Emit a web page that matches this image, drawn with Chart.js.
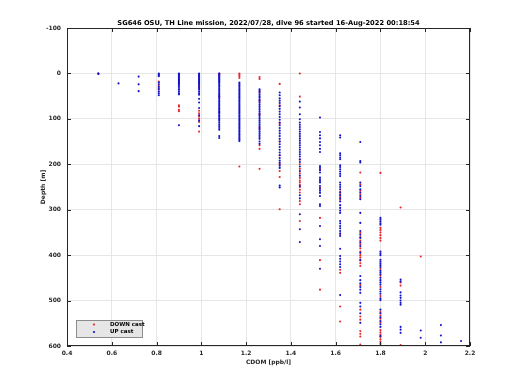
<!DOCTYPE html>
<html>
<head>
<meta charset="utf-8">
<script src="https://cdn.jsdelivr.net/npm/chart.js@4"></script>
<style>
  body { margin: 0; background: #fff; }
  canvas { display: block; }
</style>
</head>
<body>
<canvas id="chart" width="520" height="390"></canvas>
<script>
// CDOM levels (x) — the sensor reports discrete steps
const cdomLevels = [0.54, 0.63, 0.72, 0.81, 0.90, 0.99, 1.08, 1.17, 1.26, 1.35, 1.44, 1.53, 1.62, 1.71, 1.80, 1.89, 1.98, 2.07, 2.16];

// depths [m] for each CDOM level, down cast
const downDepths = [
  [0],
  [],
  [],
  [18, 28, 36],
  [2, 70, 73, 80, 83],
  [30, 82, 88, 95, 100, 107, 128],
  [0, 3, 50, 85],
  [0, 3, 6, 10, 205],
  [8, 12, 40, 60, 90, 120, 158, 166, 210],
  [23, 70, 110, 150, 180, 200, 215, 228, 299],
  [0, 51, 190, 200, 210, 220, 230, 236, 240, 245, 250, 256, 262, 281, 288, 325],
  [211, 252, 318, 411, 476],
  [260, 266, 272, 278, 355, 432, 439, 513, 546],
  [218, 244, 258, 266, 274, 351, 360, 368, 376, 385, 392, 400, 405, 412, 418, 424, 466, 520, 535, 542, 567, 573, 579, 597],
  [219, 340, 345, 350, 356, 362, 368, 430, 445, 470, 490, 525, 533, 540, 548, 565, 570, 575, 580, 585, 590, 594, 598],
  [295, 460, 467, 598],
  [403],
  [],
  []
];

// depths [m] for each CDOM level, up cast
const upDepths = [
  [0, 1],
  [22],
  [7, 24, 39],
  [0, 2, 4, 6, 20, 24, 30, 34, 40, 44, 48],
  [0, 2, 4, 6, 8, 10, 12, 14, 16, 18, 20, 22, 25, 28, 32, 36, 40, 44, 46, 114],
  [0, 2, 4, 6, 8, 10, 12, 14, 16, 18, 20, 22, 24, 27, 30, 33, 36, 40, 44, 47, 56, 64, 76, 92, 104, 116],
  [0, 2, 4, 6, 8, 10, 12, 14, 16, 18, 20, 23, 26, 29, 32, 35, 38, 41, 44, 47, 50, 53, 56, 59, 62, 65, 68, 71, 74, 77, 80, 83, 86, 89, 92, 95, 98, 101, 104, 108, 112, 116, 120, 124, 138, 142],
  [20, 23, 26, 29, 32, 35, 38, 41, 44, 47, 50, 53, 56, 59, 62, 65, 68, 71, 74, 77, 80, 83, 86, 89, 92, 95, 98, 101, 104, 107, 110, 113, 116, 119, 122, 125, 128, 131, 134, 137, 140, 143, 146, 149],
  [35, 38, 42, 46, 50, 53, 57, 60, 64, 68, 72, 76, 80, 84, 88, 92, 96, 100, 104, 108, 112, 116, 120, 124, 128, 132, 136, 140, 144, 150, 155],
  [42, 48, 55, 60, 65, 72, 78, 84, 90, 96, 102, 108, 114, 120, 126, 132, 138, 144, 150, 156, 162, 168, 174, 180, 186, 192, 197, 203, 208, 247, 251],
  [62, 75, 90, 101, 108, 113, 118, 123, 128, 133, 138, 143, 148, 153, 158, 163, 168, 173, 178, 183, 189, 195, 205, 215, 225, 248, 268, 275, 310, 343, 371],
  [97, 129, 136, 143, 151, 158, 166, 173, 204, 208, 213, 218, 229, 233, 237, 240, 248, 254, 258, 263, 270, 288, 292, 336, 365, 380, 430],
  [136, 141, 176, 180, 185, 189, 202, 206, 211, 216, 221, 226, 240, 245, 250, 255, 262, 268, 275, 282, 290, 296, 302, 307, 325, 330, 336, 341, 347, 352, 358, 386, 402, 408, 414, 420, 426, 488],
  [151, 193, 196, 240, 248, 255, 262, 270, 277, 307, 329, 347, 355, 362, 372, 380, 395, 410, 446, 455, 462, 470, 476, 483, 505, 513, 528, 549],
  [318, 322, 326, 330, 333, 392, 396, 400, 410, 414, 418, 422, 426, 434, 438, 442, 450, 455, 460, 465, 475, 480, 485, 495, 499, 520, 528, 537, 545, 552, 558, 578],
  [454, 458, 482, 489, 494, 500, 505, 509, 558, 564, 571],
  [566, 582],
  [554, 577, 592],
  [589]
];

const xTicks = [0.4, 0.6, 0.8, 1, 1.2, 1.4, 1.6, 1.8, 2, 2.2];
const yTicks = [-100, 0, 100, 200, 300, 400, 500, 600];

const titleText = "SG646 OSU, TH Line mission, 2022/07/28, dive 96 started 16-Aug-2022 00:18:54";
const AXIS_COL = "#262626";
const FONT = "'DejaVu Sans', sans-serif";
const RED = "#e8242c";
const BLUE = "#1414cc";

function toPoints(lists){
  let pts = [];
  lists.forEach((list, i) => {
    list.forEach(d => pts.push({ x: cdomLevels[i], y: d }));
  });
  return pts;
}

// box, inward ticks, title, axis labels, legend (matlab look)
const decorations = {
  id: "decorations",
  afterDraw(chart){
    const c = chart.ctx;
    const a = chart.chartArea;
    const xs = chart.scales.x, ys = chart.scales.y;
    c.save();
    c.strokeStyle = AXIS_COL;
    c.lineWidth = 1;
    c.strokeRect(a.left + 0.5, a.top + 0.5, a.right - a.left - 1, a.bottom - a.top - 1);
    c.beginPath();
    xTicks.forEach(v => {
      const px = Math.round(xs.getPixelForValue(v)) + 0.5;
      c.moveTo(px, a.bottom); c.lineTo(px, a.bottom - 4);
      c.moveTo(px, a.top); c.lineTo(px, a.top + 4);
    });
    yTicks.forEach(v => {
      const py = Math.round(ys.getPixelForValue(v)) + 0.5;
      c.moveTo(a.left, py); c.lineTo(a.left + 4, py);
      c.moveTo(a.right, py); c.lineTo(a.right - 4, py);
    });
    c.stroke();

    c.fillStyle = "#000";
    c.textAlign = "center";
    c.textBaseline = "middle";
    c.font = "bold 6.7px " + FONT;
    c.fillText(titleText, (a.left + a.right) / 2, 23);

    c.fillStyle = AXIS_COL;
    c.font = "bold 6px " + FONT;
    c.fillText("CDOM [ppb/l]", (a.left + a.right) / 2, 362);
    c.save();
    c.translate(43, (a.top + a.bottom) / 2);
    c.rotate(-Math.PI / 2);
    c.fillText("Depth [m]", 0, 0);
    c.restore();

    // legend
    const lx = 76, ly = 320, lw = 66, lh = 17;
    c.fillStyle = "#e6e6e6";
    c.fillRect(lx, ly, lw, lh);
    c.strokeStyle = "#8c8c8c";
    c.strokeRect(lx + 0.5, ly + 0.5, lw, lh);
    c.fillStyle = RED;
    c.beginPath(); c.arc(94, 324.5, 1.1, 0, Math.PI * 2); c.fill();
    c.fillStyle = BLUE;
    c.beginPath(); c.arc(94, 332, 1.1, 0, Math.PI * 2); c.fill();
    c.fillStyle = "#000";
    c.textAlign = "left";
    c.font = "bold 5.5px " + FONT;
    c.fillText("DOWN cast", 110, 324.5);
    c.fillText("UP cast", 110, 332);
    c.restore();
  }
};

const ctx = document.getElementById("chart").getContext("2d");
new Chart(ctx, {
  type: "scatter",
  data: {
    datasets: [
      {
        label: "DOWN cast",
        data: toPoints(downDepths),
        backgroundColor: RED,
        pointRadius: 1.05,
        pointBorderWidth: 0,
        order: 1
      },
      {
        label: "UP cast",
        data: toPoints(upDepths),
        backgroundColor: BLUE,
        pointRadius: 1.05,
        pointBorderWidth: 0,
        order: 0
      }
    ]
  },
  options: {
    responsive: false,
    devicePixelRatio: 1,
    animation: false,
    layout: { padding: { top: 28, right: 50, left: 0, bottom: 0 } },
    plugins: {
      legend: { display: false },
      title: { display: false },
      tooltip: { enabled: false }
    },
    scales: {
      x: {
        type: "linear",
        min: 0.4, max: 2.2,
        afterBuildTicks: s => { s.ticks = xTicks.map(v => ({ value: v })); },
        afterFit: s => { s.height = 44; },
        border: { display: false },
        grid: { color: "#e6e6e6", drawTicks: false },
        ticks: {
          color: AXIS_COL,
          padding: 4,
          maxRotation: 0,
          font: { family: FONT, size: 6, weight: "bold" },
          callback: v => String(Number(v.toFixed(1)))
        }
      },
      y: {
        type: "linear",
        reverse: true,
        min: -100, max: 600,
        afterBuildTicks: s => { s.ticks = yTicks.map(v => ({ value: v })); },
        afterFit: s => { s.width = 67; },
        border: { display: false },
        grid: { color: "#e6e6e6", drawTicks: false },
        ticks: {
          color: AXIS_COL,
          padding: 6,
          font: { family: FONT, size: 6, weight: "bold" },
          callback: v => String(v)
        }
      }
    }
  },
  plugins: [decorations]
});
</script>
</body>
</html>
